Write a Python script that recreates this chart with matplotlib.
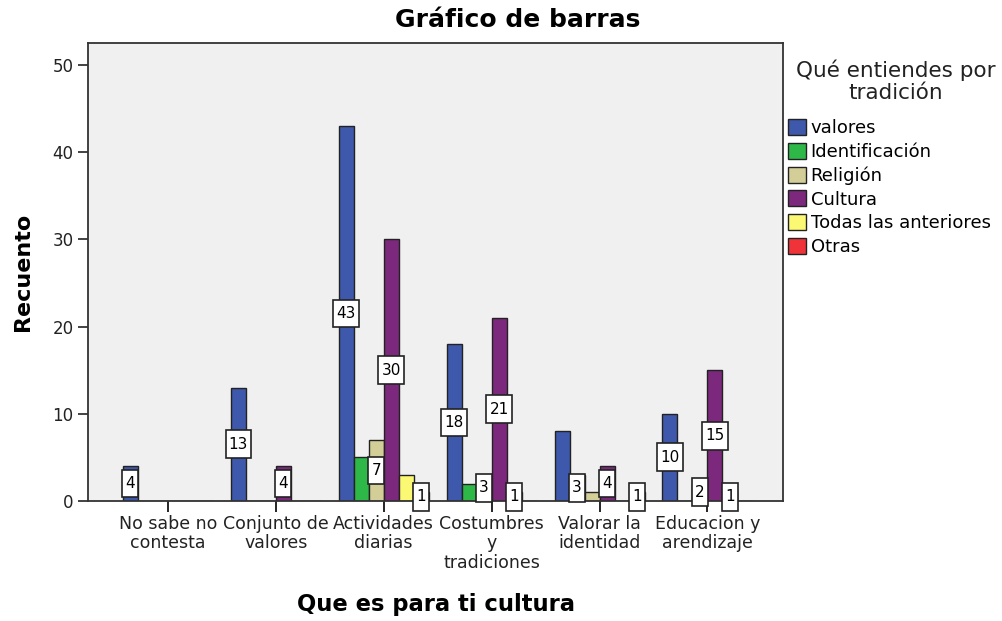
import matplotlib.pyplot as plt
import numpy as np
from matplotlib.patches import Patch
from matplotlib.path import Path

plt.rcParams['font.family'] = ['DejaVu Sans']

categorias = ['No sabe no\ncontesta', 'Conjunto de\nvalores', 'Actividades\ndiarias',
              'Costumbres\ny\ntradiciones', 'Valorar la\nidentidad', 'Educacion y\narendizaje']
series = ['valores', 'Identificación', 'Religión', 'Cultura', 'Todas las anteriores', 'Otras']
valores = [4, 13, 43, 18, 8, 10]
identificacion = [0, 0, 5, 2, 3, 0]
religion = [0, 0, 7, 3, 1, 2]
cultura = [0, 4, 30, 21, 4, 15]
todas = [0, 0, 3, 1, 0, 1]
otras = [0, 0, 1, 0, 1, 0]
colores = ['#3E58AC', '#2EB848', '#D3CE97', '#7C287D', '#FBF873', '#EF3338']

# which value labels SPSS kept (the rest were hidden by overlap)
mostrar = [
    [1, 1, 1, 1, 0, 1],
    [0, 0, 0, 0, 1, 0],
    [0, 0, 1, 1, 0, 1],
    [0, 1, 1, 1, 1, 1],
    [0, 0, 0, 1, 0, 1],
    [0, 0, 1, 0, 1, 0],
]

datos = [valores, identificacion, religion, cultura, todas, otras]


def caja(x0, y0, width, height, mutation_size):
    # tall label box like SPSS
    px = 0.2 * mutation_size
    py = 0.42 * mutation_size
    verts = [(x0 - px, y0 - py), (x0 + width + px, y0 - py),
             (x0 + width + px, y0 + height + py), (x0 - px, y0 + height + py),
             (x0 - px, y0 - py)]
    return Path(verts, closed=True)


fig = plt.figure(figsize=(10.03, 6.21), dpi=100)
ax = fig.add_axes([0.0877, 0.1932, 0.693, 0.7376])
ax.set_facecolor('#F0F0F0')

x = np.arange(len(categorias))
w = 0.139
for i, (vals, col) in enumerate(zip(datos, colores)):
    pos = x + (i - 2.5) * w
    ax.bar(pos, vals, width=w, color=col, edgecolor='#222222', linewidth=1.0, zorder=2)
    for p, v, m in zip(pos, vals, mostrar[i]):
        if m and v > 0:
            ax.text(p, v / 2, str(v), ha='center', va='center', fontsize=11, zorder=4,
                    bbox=dict(boxstyle=caja, fc='white', ec='#222222', lw=1.2))

ax.set_xlim(-0.74, 5.70)
ax.set_ylim(0, 52.5)
ax.set_yticks([0, 10, 20, 30, 40, 50])
ax.set_xticks(x)
ax.set_xticklabels(categorias, fontsize=12.5, color='#222222', linespacing=1.1)
ax.tick_params(axis='y', labelsize=12, colors='#222222', direction='out', length=7, width=1.2)
ax.tick_params(axis='x', direction='out', length=8, width=1.2, pad=2)
for s in ax.spines.values():
    s.set_color('#333333')
    s.set_linewidth(1.3)

ax.set_ylabel('Recuento', fontsize=16, fontweight='bold', labelpad=14)
ax.set_xlabel('Que es para ti cultura', fontsize=16.3, fontweight='bold', labelpad=15)
fig.text(518 / 1003, 1 - 20 / 621, 'Gráfico de barras', fontsize=18, fontweight='bold',
         ha='center', va='center')

fig.text(896 / 1003, 1 - 81 / 621, 'Qué entiendes por\ntradición', fontsize=15.5,
         ha='center', va='center', linespacing=1.1, color='#222222')
handles = [Patch(facecolor=c, edgecolor='#222222', label=s) for c, s in zip(colores, series)]
fig.legend(handles=handles, loc='upper left', bbox_to_anchor=(788 / 1003, 1 - 119 / 621),
           fontsize=13, frameon=False, handlelength=1.0, handleheight=1.0,
           handletextpad=0.25, labelspacing=0.3, borderaxespad=0, borderpad=0)

plt.savefig('out.png')
